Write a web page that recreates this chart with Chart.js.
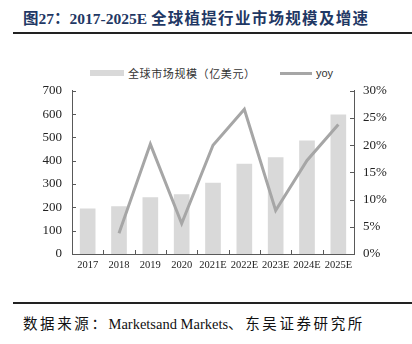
<!DOCTYPE html>
<html>
<head>
<meta charset="utf-8">
<script src="https://cdn.jsdelivr.net/npm/chart.js@4"></script>
<style>
  body { margin: 0; width: 412px; height: 344px; background: #fff; position: relative; overflow: hidden;
         font-family: "Liberation Serif", "Noto Sans CJK SC", serif; }
  #title { position: absolute; left: 23px; top: 6px; font-size: 15.5px; font-weight: bold; color: #1f3864; white-space: nowrap; }
  #title .cn { letter-spacing: 1.3px; }
  #titleLine { position: absolute; left: 13px; right: 0; top: 32px; height: 2px; background: #222; }
  #legend { position: absolute; top: 65px; left: 90px; font-size: 11px; color: #333; white-space: nowrap; }
  .lg { position: absolute; top: 0; display: flex; align-items: center; height: 16px; }
  #footLine { position: absolute; left: 13px; right: 0; top: 302px; height: 1.5px; background: #222; }
  #foot { position: absolute; left: 23px; top: 312px; font-size: 14.5px; color: #111; white-space: nowrap; }
  #foot .cn { letter-spacing: 2.6px; }
  #wrap { position: absolute; left: 0; top: 73px; width: 412px; height: 207px; }
</style>
</head>
<body>
<div id="title">图27：2017-2025E <span class="cn">全球植提行业市场规模及增速</span></div>
<div id="titleLine"></div>
<div id="legend">
  <div class="lg" style="left:0"><span style="display:inline-block;width:34px;height:6px;background:#d9d9d9;margin-right:4px"></span><span style="font-family:'Noto Sans CJK SC';letter-spacing:0.6px">全球市场规模（亿美元）</span></div>
  <div class="lg" style="left:190px"><span style="display:inline-block;width:32px;height:3px;background:#a6a6a6;margin-right:4px"></span><span style="font-family:'Liberation Sans'">yoy</span></div>
</div>
<div id="wrap"><canvas id="chart"></canvas></div>
<div id="footLine"></div>
<div id="foot"><span class="cn">数据来源：</span>Marketsand Markets<span class="cn">、东吴证券研究所</span></div>
<script>
const years = ["2017", "2018", "2019", "2020", "2021E", "2022E", "2023E", "2024E", "2025E"];
const marketSize = [195, 205, 243, 256, 306, 387, 415, 487, 598];
const yoy = [null, 3.8, 20.2, 5.6, 20.0, 26.6, 8.0, 17.2, 23.8];

const axisColor = "#595959";
const tickFont = { family: "Liberation Serif", size: 13 };

// short tick marks pointing into the plot area
const innerTicks = {
  id: "innerTicks",
  afterDraw(c) {
    const ctx = c.ctx, a = c.chartArea;
    ctx.save();
    ctx.strokeStyle = axisColor;
    ctx.lineWidth = 1;
    ctx.beginPath();
    c.scales.y.ticks.forEach((t) => {
      const py = Math.round(c.scales.y.getPixelForValue(t.value)) + 0.5;
      ctx.moveTo(a.left, py); ctx.lineTo(a.left + 4, py);
    });
    c.scales.y1.ticks.forEach((t) => {
      const py = Math.round(c.scales.y1.getPixelForValue(t.value)) + 0.5;
      ctx.moveTo(a.right, py); ctx.lineTo(a.right - 4, py);
    });
    const xs = c.scales.x;
    for (let i = 1; i < years.length; i++) {
      const px = Math.round((xs.getPixelForTick(i - 1) + xs.getPixelForTick(i)) / 2) + 0.5;
      ctx.moveTo(px, a.bottom); ctx.lineTo(px, a.bottom - 4);
    }
    ctx.stroke();
    ctx.restore();
  }
};

new Chart(document.getElementById("chart"), {
  data: {
    labels: years,
    datasets: [
      {
        type: "line",
        label: "yoy",
        data: yoy,
        yAxisID: "y1",
        borderColor: "#a6a6a6",
        borderWidth: 3,
        pointRadius: 0,
        tension: 0,
        spanGaps: false,
        order: 0
      },
      {
        type: "bar",
        label: "全球市场规模（亿美元）",
        data: marketSize,
        yAxisID: "y",
        backgroundColor: "#d9d9d9",
        barPercentage: 0.5,
        categoryPercentage: 1,
        order: 1
      }
    ]
  },
  options: {
    responsive: true,
    maintainAspectRatio: false,
    animation: false,
    layout: { padding: { top: 3, left: 0, right: 0, bottom: 0 } },
    plugins: { legend: { display: false }, tooltip: { enabled: false } },
    scales: {
      x: {
        grid: { display: false, drawTicks: false },
        border: { color: axisColor },
        ticks: { color: "#222", font: { family: "Liberation Serif", size: 10.5 }, padding: 5, maxRotation: 0, autoSkip: false },
        afterFit: (s) => { s.height = 26; }
      },
      y: {
        position: "left",
        min: 0, max: 700,
        grid: { display: false, drawTicks: false },
        border: { color: axisColor },
        ticks: { stepSize: 100, color: "#222", font: tickFont, padding: 10 },
        afterFit: (s) => { s.width = 72; }
      },
      y1: {
        position: "right",
        min: 0, max: 30,
        grid: { display: false, drawTicks: false },
        border: { color: axisColor },
        ticks: { stepSize: 5, color: "#222", font: tickFont, padding: 9, callback: (v) => v + "%" },
        afterFit: (s) => { s.width = 58; }
      }
    }
  },
  plugins: [innerTicks]
});
</script>
</body>
</html>
